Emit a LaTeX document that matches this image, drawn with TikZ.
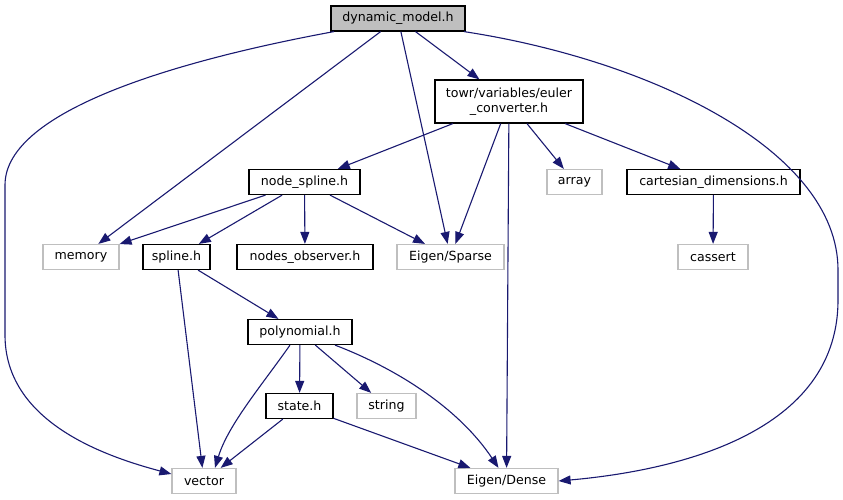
\documentclass[tikz,border=0pt]{standalone}
\usepackage{fontspec}
\setmainfont{DejaVu Sans}
\usetikzlibrary{arrows.meta}
\definecolor{edgeblue}{HTML}{191970}
\definecolor{boxgray}{HTML}{BFBFBF}
\tikzset{
  hdr/.style={draw=black, line width=1.2pt, fill=white, inner sep=0pt, minimum height=25pt, font=\fontsize{12.6}{15}\selectfont, align=center},
  sys/.style={hdr, draw=boxgray},
  root/.style={hdr, fill=boxgray, draw=black},
  dep/.style={draw=edgeblue, line width=1.1pt, -{Triangle[length=12pt,width=9pt]}},
}
\begin{document}
\begin{tikzpicture}[x=1pt,y=-1pt]
\useasboundingbox (0,0) rectangle (843,500);
% nodes
\node[root, minimum width=134pt] (dm) at (398,18.5) {dynamic\_model.h};
\node[hdr, minimum width=148pt, minimum height=43pt] (eu) at (509,101.5) {towr/variables/euler\\\_converter.h};
\node[hdr, minimum width=111pt] (ns) at (304.5,182) {node\_spline.h};
\node[sys, minimum width=55pt] (ar) at (574.5,182) {array};
\node[hdr, minimum width=173pt] (cd) at (713.5,182) {cartesian\_dimensions.h};
\node[sys, minimum width=76pt] (me) at (81,257) {memory};
\node[hdr, minimum width=67pt] (sp) at (176.5,257) {spline.h};
\node[hdr, minimum width=136pt] (no) at (305,257) {nodes\_observer.h};
\node[sys, minimum width=107pt] (es) at (450.5,257) {Eigen/Sparse};
\node[sys, minimum width=70pt] (ca) at (713,257) {cassert};
\node[hdr, minimum width=104pt] (po) at (300,332) {polynomial.h};
\node[hdr, minimum width=67pt] (st) at (299.5,406) {state.h};
\node[sys, minimum width=59pt] (str) at (386.5,406) {string};
\node[sys, minimum width=64pt] (ve) at (204,481) {vector};
\node[sys, minimum width=103pt] (ed) at (506.5,481) {Eigen/Dense};
% edges
\draw[dep] ([xshift=-64pt]dm.south) .. controls (180,60) and (5,110) .. (5,185) -- (5,335) .. controls (5,420) and (100,455) .. ([yshift=7pt]ve.west);
\draw[dep] (dm) -- (me);
\draw[dep] (dm) -- (es);
\draw[dep] (dm) -- (eu);
\draw[dep] ([xshift=66pt]dm.south) .. controls (650,60) and (838,150) .. (838,270) -- (838,300) .. controls (838,440) and (660,472) .. (ed.east);
\draw[dep] (eu) -- (ns);
\draw[dep] (eu) -- (es);
\draw[dep] (eu) -- (ed);
\draw[dep] (eu) -- (ar);
\draw[dep] (eu) -- (cd);
\draw[dep] (cd) -- (ca);
\draw[dep] (ns) -- (me);
\draw[dep] (ns) -- (sp);
\draw[dep] (ns) -- (no);
\draw[dep] (ns) -- (es);
\draw[dep] (sp) -- (ve);
\draw[dep] (sp) -- (po);
\draw[dep] ([xshift=-10pt]po.south) .. controls (262,385) and (228,425) .. ([xshift=11pt]ve.north);
\draw[dep] (po) -- (st);
\draw[dep] (po) -- (str);
\draw[dep] ([xshift=35pt]po.south) .. controls (400,370) and (460,410) .. ([xshift=-8pt]ed.north);
\draw[dep] (st) -- (ve);
\draw[dep] (st) -- (ed);
\end{tikzpicture}
\end{document}
